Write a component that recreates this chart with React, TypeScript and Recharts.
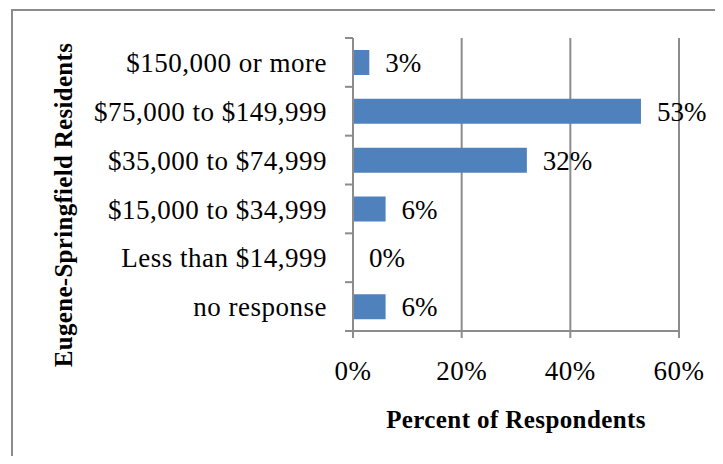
import { BarChart, Bar, XAxis, YAxis, CartesianGrid, LabelList } from "recharts"

const categories = [
  "$150,000 or more",
  "$75,000 to $149,999",
  "$35,000 to $74,999",
  "$15,000 to $34,999",
  "Less than $14,999",
  "no response",
]
const percents = [3, 53, 32, 6, 0, 6]
const percentTicks = [0, 20, 40, 60]

const data = categories.map((name, i) => ({ name, value: percents[i] }))

const GREY = "#8c8c8c"
const FONT = "'Liberation Serif', 'Times New Roman', serif"
const LABEL_GAP = 26
const TICK_LEN = 8

const tickText = { fontFamily: FONT, fontSize: 27, fill: "#000", letterSpacing: 0.5 }

// category label plus the small tick marks that sit on the row boundaries
function CategoryTick(props: any) {
  const { x, y, payload, index, visibleTicksCount } = props
  const half = payload.offset ?? 24.4
  const ax = x + LABEL_GAP
  const last = index === visibleTicksCount - 1
  return (
    <g>
      <line x1={ax - TICK_LEN} x2={ax} y1={y - half} y2={y - half} stroke={GREY} strokeWidth={2} />
      {last && <line x1={ax - TICK_LEN} x2={ax} y1={y + half} y2={y + half} stroke={GREY} strokeWidth={2} />}
      <text x={x} y={y} dy="0.355em" textAnchor="end" {...tickText}>
        {payload.value}
      </text>
    </g>
  )
}

function YTitle() {
  return (
    <text
      x={64}
      y={197}
      transform="rotate(-90 64 197)"
      textAnchor="middle"
      fontFamily={FONT}
      fontSize={25}
      fontWeight="bold"
      letterSpacing={0.3}
      fill="#000"
    >
      Eugene-Springfield Residents
    </text>
  )
}

export default function App() {
  return (
    <div style={{ position: "relative", width: 707, height: 448, overflow: "hidden" }}>
      <div
        style={{
          position: "absolute",
          left: 3,
          top: 1,
          width: 1000,
          height: 1000,
          borderLeft: `2px solid ${GREY}`,
          borderTop: `2px solid ${GREY}`,
        }}
      />
      <BarChart
        layout="vertical"
        width={707}
        height={448}
        data={data}
        margin={{ top: 30, right: 36, bottom: 0, left: 0 }}
        style={{ position: "absolute", left: 0, top: 0 }}
      >
        <CartesianGrid horizontal={false} stroke={GREY} strokeWidth={2} />
        <XAxis
          type="number"
          domain={[0, 60]}
          ticks={percentTicks}
          tickFormatter={(v) => `${v}%`}
          height={125}
          axisLine={{ stroke: GREY, strokeWidth: 2 }}
          tickLine={{ stroke: GREY, strokeWidth: 2 }}
          tickSize={7}
          tickMargin={23}
          tick={tickText}
          label={{
            value: "Percent of Respondents",
            position: "insideBottom",
            offset: 28,
            fontFamily: FONT,
            fontSize: 25,
            fontWeight: "bold",
            letterSpacing: 0.4,
            fill: "#000",
          }}
        />
        <YAxis
          type="category"
          dataKey="name"
          width={345}
          interval={0}
          axisLine={{ stroke: GREY, strokeWidth: 2 }}
          tickLine={false}
          tickSize={0}
          tickMargin={LABEL_GAP}
          tick={<CategoryTick />}
          label={<YTitle />}
        />
        <Bar dataKey="value" fill="#4F81BD" barSize={25} minPointSize={0.01} isAnimationActive={false}>
          <LabelList
            dataKey="value"
            position="right"
            offset={16}
            formatter={(v: number) => `${v}%`}
            fontFamily={FONT}
            fontSize={27}
            fill="#000"
          />
        </Bar>
      </BarChart>
    </div>
  )
}
